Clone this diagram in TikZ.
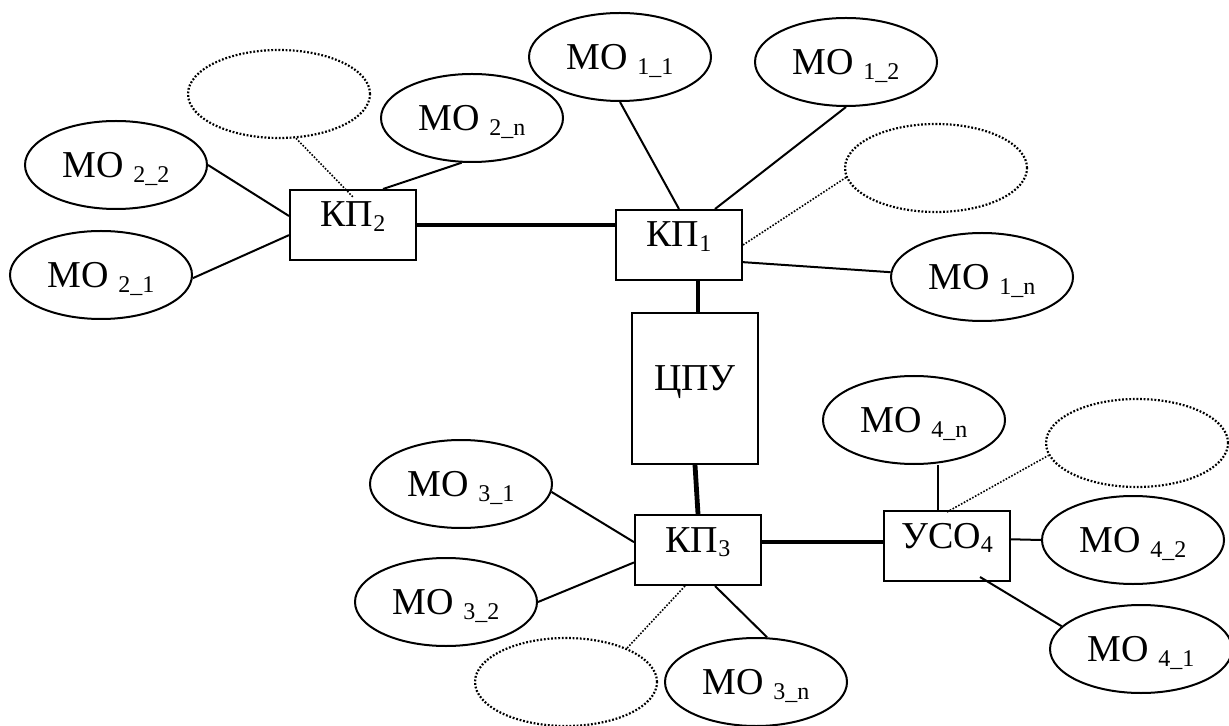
\documentclass[tikz,border=0pt]{standalone}
\usepackage{fontspec}
\setmainfont{Liberation Serif}
\usetikzlibrary{shapes.geometric}
\newcommand{\lowidx}[1]{\raisebox{-2.4pt}{\fontsize{12}{12}\selectfont #1}}

\begin{document}
\begin{tikzpicture}[x=0.5pt,y=-0.5pt,
  every node/.style={font=\fontsize{19}{23}\selectfont},
  mo/.style={ellipse,draw,line width=1pt,minimum width=91pt,minimum height=44pt,inner sep=0pt,text height=12.6pt,text depth=0pt},
  blank/.style={ellipse,draw,line width=1.1pt,dash pattern=on 0.9pt off 0.9pt,minimum width=91pt,minimum height=44pt},
  kp/.style={rectangle,draw,line width=1pt,minimum width=63pt,minimum height=35pt,text height=8pt,text depth=6pt},
  link/.style={line width=1pt},
  bus/.style={line width=2.4pt},
  dot/.style={line width=0.8pt,dash pattern=on 0.8pt off 0.8pt}]
  \useasboundingbox (0,0) rectangle (1229,726);
  % boxes
  \node[kp] (kp2) at (353,225) {КП\lowidx{2}};
  \node[kp] (kp1) at (679,245) {КП\lowidx{1}};
  \node[kp,minimum height=75.5pt] (cpu) at (695,388.5) {ЦПУ};
  \node[kp] (kp3) at (698,550) {КП\lowidx{3}};
  \node[kp] (uso4) at (947,546) {УСО\lowidx{4}};
  % objects
  \node[blank] (e2) at (279,94) {};
  \node[mo] (mo2n) at (472,118) {МО \lowidx{2\_n}};
  \node[mo] (mo22) at (116,165) {МО \lowidx{2\_2}};
  \node[mo] (mo21) at (101,275) {МО \lowidx{2\_1}};
  \node[mo] (mo11) at (620,57) {МО \lowidx{1\_1}};
  \node[mo] (mo12) at (846,62) {МО \lowidx{1\_2}};
  \node[blank] (e1) at (936,168) {};
  \node[mo] (mo1n) at (982,277) {МО \lowidx{1\_n}};
  \node[mo] (mo31) at (461,484) {МО \lowidx{3\_1}};
  \node[mo] (mo32) at (446,602) {МО \lowidx{3\_2}};
  \node[blank] (e3) at (566,682) {};
  \node[mo] (mo3n) at (756,682) {МО \lowidx{3\_n}};
  \node[mo] (mo4n) at (914,420) {МО \lowidx{4\_n}};
  \node[blank] (e4) at (1137,443) {};
  \node[mo] (mo42) at (1133,540) {МО \lowidx{4\_2}};
  \node[mo] (mo41) at (1141,649) {МО \lowidx{4\_1}};
  % trunk lines
  \draw[bus] (kp2.east) -- (kp2.east -| kp1.west);
  \draw[bus] ([xshift=1.5pt]cpu.north) -- ([xshift=1.5pt]cpu.north |- kp1.south);
  \draw[bus] (cpu.south) -- (kp3.north);
  \draw[bus] ([yshift=2pt]uso4.west) -- ([yshift=2pt]uso4.west -| kp3.east);
  % KP2
  \draw[link] (mo22.east) -- (kp2.172);
  \draw[link] (mo21.-2) -- (kp2.189);
  \draw[dot] (e2.-69) -- ([yshift=-4pt]kp2.north);
  \draw[link] (mo2n.-103) -- ([xshift=15pt]kp2.north);
  % KP1
  \draw[link] (mo11.south) -- (kp1.north);
  \draw[link] (mo12.south) -- ([xshift=18pt]kp1.north);
  \draw[dot] (kp1.east) -- (e1.186);
  \draw[link] (kp1.-15) -- (mo1n.177);
  % KP3
  \draw[link] (mo31.-5) -- (kp3.173);
  \draw[link] (mo32.east) -- (kp3.191);
  \draw[dot] ([xshift=-6.5pt]kp3.south) -- (e3.29);
  \draw[link] ([xshift=8.5pt]kp3.south) -- (mo3n.76);
  % USO4
  \draw[link] ([xshift=-4.5pt]uso4.north) -- ([xshift=-4.5pt]uso4.north |- mo4n.south);
  \draw[dot] ([yshift=-1pt]uso4.north) -- (e4.188);
  \draw[link] (uso4.6) -- (mo42.west);
  \draw[link] ([xshift=16.5pt,yshift=2.5pt]uso4.south) -- (mo41.164);
\end{tikzpicture}
\end{document}
